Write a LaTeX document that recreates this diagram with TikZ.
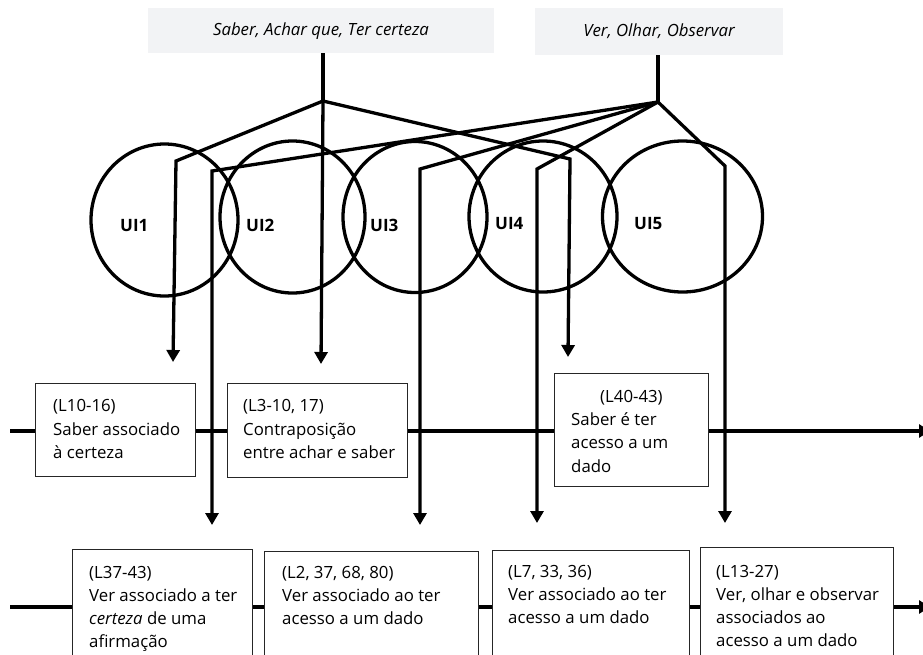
\documentclass[tikz,border=0pt]{standalone}
\usepackage{fontspec}
\setmainfont{Open Sans}
\usetikzlibrary{arrows.meta,shapes.geometric}
\definecolor{topfill}{HTML}{F2F3F5}
\newcommand{\firstline}{\rule{0pt}{14pt}}
\tikzset{
  link/.style={line width=3.3pt, line join=miter},
  linkarrow/.style={link, -{Triangle[length=12pt,width=13pt]}},
  timeline/.style={line width=3.3pt, -{Triangle[length=11pt,width=13pt]}},
  topbox/.style={fill=topfill, draw=none, inner sep=0pt,
    text height=11pt, text depth=2pt, font=\fontsize{16.8}{18}\selectfont\itshape},
  unit/.style={ellipse, draw, line width=3.3pt, inner sep=0pt},
  unitlabel/.style={font=\fontsize{17}{18}\selectfont\bfseries, inner sep=0pt, anchor=base west},
  rowbox/.style={draw=black!85, line width=1.2pt, fill=white, anchor=north west, inner sep=0pt},
  rowtext/.style={align=left, inner sep=0pt, anchor=north west},
  upper/.style={rowtext, font=\fontsize{16.8}{23.8}\selectfont},
  lower/.style={rowtext, font=\fontsize{16.8}{23}\selectfont},
}
\begin{document}
\begin{tikzpicture}[x=1pt,y=-1pt]
\useasboundingbox (0,0) rectangle (923,654);
\clip (0,0) rectangle (923,654);

% verb groups
\node[topbox, minimum width=346pt, minimum height=45pt] (t1) at (321,30.5) {Saber, Achar que, Ter certeza};
\node[topbox, minimum width=248pt, minimum height=47pt] (t2) at (659,31.5) {Ver, Olhar, Observar};

% time lines
\coordinate (r1s) at (10,431);
\coordinate (r1e) at (930,431);
\coordinate (r2s) at (10,607);
\coordinate (r2e) at (930,607);
\draw[timeline] (r1s) -- (r1e);
\draw[timeline] (r2s) -- (r2e);

% units of interaction
\node[unit, minimum width=147pt, minimum height=152pt] (u1) at (164.5,220) {};
\node[unit, minimum width=145pt, minimum height=152pt] (u2) at (292.5,217) {};
\node[unit, minimum width=144pt, minimum height=151pt] (u3) at (415,217) {};
\node[unit, minimum width=148pt, minimum height=151pt] (u4) at (543,216.5) {};
\node[unit, minimum width=160pt, minimum height=151pt] (u5) at (682.5,216.5) {};
\node[unitlabel] (l1) at (120,231) {UI1};
\node[unitlabel] (l2) at (246,231) {UI2};
\node[unitlabel] (l3) at (370,231) {UI3};
\node[unitlabel] (l4) at (495,229) {UI4};
\node[unitlabel] (l5) at (634,229) {UI5};

% branching points, bends and arrow ends
\coordinate (j1) at (323,101);
\coordinate (j2) at (658,102);
\coordinate (c1) at (176,161);
\coordinate (c3) at (570,159);
\coordinate (d1) at (212,171);
\coordinate (d2) at (420,169);
\coordinate (d3) at (537,169);
\coordinate (d4) at (725,166);
\coordinate (a1) at (173,362);
\coordinate (a2) at (321,364);
\coordinate (a3) at (568,357);
\coordinate (b1) at (212,525);
\coordinate (b2) at (420,525);
\coordinate (b3) at (537,523);
\coordinate (b4) at (725,523);

% connectors of the first group
\draw[link] (t1.south -| j1) -- (j1);
\draw[linkarrow] (j1) -- (c1) -- (a1);
\draw[linkarrow] (j1) -- (a2);
\draw[linkarrow] (j1) -- (c3) -- (a3);

% connectors of the second group
\draw[link] (t2.south -| j2) -- (j2);
\draw[linkarrow] (j2) -- (d1) -- (b1);
\draw[linkarrow] (j2) -- (d2) -- (b2);
\draw[linkarrow] (j2) -- (d3) -- (b3);
\draw[linkarrow] (j2) -- (d4) -- (b4);

% first row of episodes
\node[rowbox, minimum width=160pt, minimum height=93pt] (bA) at (35,383) {};
\node[upper] (tA) at (53,397) {\firstline(L10-16)\\Saber associado\\à certeza};
\node[rowbox, minimum width=180pt, minimum height=94pt] (bB) at (227,383) {};
\node[upper] (tB) at (243,397) {\firstline(L3-10, 17)\\Contraposição\\entre achar e saber};
\node[rowbox, minimum width=154pt, minimum height=113pt] (bC) at (554,373) {};
\node[rowtext, font=\fontsize{16.8}{23.3}\selectfont] (tC) at (571,388) {\firstline\hspace*{29pt}(L40-43)\\Saber é ter\\acesso a um\\dado};

% second row of episodes
\node[rowbox, minimum width=180pt, minimum height=130pt] (bD) at (72,549) {};
\node[lower] (tD) at (89,564) {\firstline(L37-43)\\Ver associado a ter\\\textit{certeza} de uma\\afirmação};
\node[rowbox, minimum width=214pt, minimum height=130pt] (bE) at (264,551) {};
\node[lower] (tE) at (282,564) {\firstline(L2, 37, 68, 80)\\Ver associado ao ter\\acesso a um dado};
\node[rowbox, minimum width=197pt, minimum height=130pt] (bF) at (492,550) {};
\node[lower] (tF) at (508,563) {\firstline(L7, 33, 36)\\Ver associado ao ter\\acesso a um dado};
\node[rowbox, minimum width=193pt, minimum height=130pt] (bG) at (700,547) {};
\node[lower] (tG) at (716,563) {\firstline(L13-27)\\Ver, olhar e observar\\associados ao\\acesso a um dado};
\end{tikzpicture}
\end{document}
